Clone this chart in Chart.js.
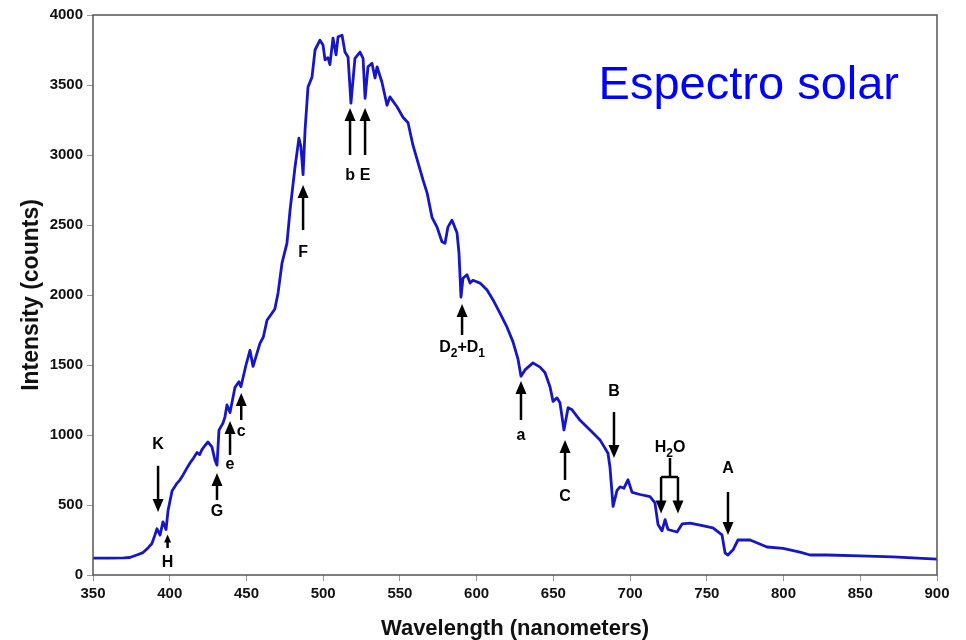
<!DOCTYPE html>
<html>
<head>
<meta charset="utf-8">
<script src="https://cdn.jsdelivr.net/npm/chart.js@4/dist/chart.umd.min.js"></script>
<style>
html,body{margin:0;padding:0;background:#fff;}
#wrap{width:966px;height:640px;}
</style>
</head>
<body>
<div id="wrap"><canvas id="c" width="966" height="640"></canvas></div>
<script>
// Wavelength (nm) and measured intensity (counts)
const wavelengthsNm = [
  350,360,370,374,379,382.6,386,388.4,390.5,391.7,
  393.7,395.6,397.6,398.9,401.5,404.7,406.7,408.7,411,413.2,
  415.5,417.8,419.5,421.0,423.0,424.9,427.5,429.5,430.8,432.1,
  434.7,436,437.3,439.3,442.5,445.1,446.4,449.7,452.3,454.3,
  458.8,461,463.4,466.6,468.5,470.6,473.2,476.4,478.4,481.6,
  484.2,485.5,486.9,488.2,490.1,492.7,494.7,497.9,499.9,501.2,
  503.1,504.4,506.4,508.4,509.7,512.3,514.2,516.2,518.1,520.7,
  524.0,526.0,527.3,529.2,531.8,533.8,535.1,538.3,541.6,543.5,
  548.1,552.0,555.3,558.5,561.8,565.1,567.7,570.9,574.2,577.4,
  579.4,581.3,583.9,587.2,588.5,589.8,591.1,593.7,595.7,597.6,
  602.2,606.8,610.7,615.2,619.8,623.7,627.0,628.9,631.5,636.7,
  641.3,644.6,647.8,649.8,652.4,654.3,656.9,659.6,662.2,667.4,
  673.9,680.4,685.6,686.9,688.9,691.5,693.4,696.0,698.6,701.3,
  706.5,713.0,716.2,718.2,720.8,722.8,724.7,730.6,733.9,739.1,
  745.6,754.0,759.9,761.9,763.8,767.1,770.3,778.2,789.2,799.7,
  810.7,817.3,828.3,849.8,871.3,900
];
const intensityCounts = [
  120,121,123,125,145,160,195,225,290,330,
  285,380,325,460,600,655,680,715,760,800,
  835,875,860,895,925,950,915,820,785,1035,
  1085,1130,1215,1160,1340,1380,1345,1500,1605,1490,
  1655,1700,1820,1870,1900,2015,2230,2370,2605,2910,
  3120,3060,2860,3180,3485,3555,3750,3820,3785,3680,
  3695,3645,3835,3715,3845,3855,3735,3700,3370,3690,
  3735,3690,3405,3630,3655,3550,3630,3520,3355,3415,
  3345,3270,3230,3070,2945,2820,2730,2555,2485,2380,
  2370,2485,2535,2445,2300,1985,2120,2145,2085,2105,
  2085,2035,1965,1870,1770,1665,1540,1420,1465,1515,
  1485,1445,1345,1240,1265,1230,1036,1195,1180,1105,
  1035,965,870,770,490,605,630,620,680,590,
  575,560,515,360,315,395,325,307,365,370,
  357,336,286,157,143,180,250,250,200,190,
  164,143,143,136,129,114
];

// Axis ranges / tick steps
const xRange = [350, 900];
const xStep = 50;
const yRange = [0, 4000];
const yStep = 500;

const chartTitle = 'Espectro solar';
const xTitle = 'Wavelength (nanometers)';
const yTitle = 'Intensity (counts)';

// Fraunhofer line annotations (label segments: [text, isSubscript])
const lineLabels = [
  [['K',0]], [['H',0]], [['G',0]], [['e',0]], [['c',0]], [['F',0]],
  [['b',0]], [['E',0]], [['D',0],['2',1],['+D',0],['1',1]],
  [['a',0]], [['C',0]], [['B',0]], [['A',0]]
];
const lineNm      = [392.4, 398.6, 430.8, 439.3, 446.6, 486.9, 517.5, 527.3, 590.5, 628.9, 657.6, 689.5, 763.8];
const arrowTail   = [780,   193,   536,   857,   1107,  2464,  3000,  3000,  1714,  1107,  679,   1164,  593];
const arrowTip    = [450,   290,   729,   1100,  1300,  2786,  3336,  3336,  1936,  1386,  964,   836,   286];
const labelCounts = [929,   86,    450,   786,   1021,  2300,  2850,  2850,  1621,  993,   557,   1307,  757];
const smallHead   = [0,     1,     0,     0,     0,     0,     0,     0,     0,     0,     0,     0,     0];

// Water band bracket
const waterLabel = [['H',0],['2',1],['O',0]];
const waterNm = [720.2, 726.0, 731.2];
const waterCounts = {label: 907, stem: 836, bar: 700, tip: 440};

function drawArrow(ctx, x, y0, y1, small) {
  const dir = y1 > y0 ? 1 : -1;
  const hl = small ? 8 : 13, hw = small ? 3.5 : 5.5;
  ctx.beginPath();
  ctx.moveTo(x, y0);
  ctx.lineTo(x, y1 - dir * hl * 0.8);
  ctx.stroke();
  ctx.beginPath();
  ctx.moveTo(x, y1);
  ctx.lineTo(x - hw, y1 - dir * hl);
  ctx.lineTo(x + hw, y1 - dir * hl);
  ctx.closePath();
  ctx.fill();
}
function drawLabel(ctx, segs, cx, cy) {
  const big = 'bold 16px "Liberation Sans", Arial, sans-serif';
  const sub = 'bold 12px "Liberation Sans", Arial, sans-serif';
  let w = 0;
  segs.forEach(s => { ctx.font = s[1] ? sub : big; w += ctx.measureText(s[0]).width; });
  let x = cx - w / 2;
  ctx.textAlign = 'left';
  ctx.textBaseline = 'middle';
  segs.forEach(s => {
    ctx.font = s[1] ? sub : big;
    ctx.fillText(s[0], x, s[1] ? cy + 6 : cy);
    x += ctx.measureText(s[0]).width;
  });
}

const annotPlugin = {
  id: 'annot',
  afterDatasetsDraw(chart) {
    const {ctx, chartArea: a} = chart;
    const xs = chart.scales.x, ys = chart.scales.y;
    ctx.save();
    // frame
    ctx.strokeStyle = '#555';
    ctx.lineWidth = 1.5;
    ctx.strokeRect(a.left, a.top, a.right - a.left, a.bottom - a.top);
    ctx.strokeStyle = '#000';
    ctx.fillStyle = '#000';
    ctx.lineWidth = 2.5;
    for (let i = 0; i < lineNm.length; i++) {
      const px = xs.getPixelForValue(lineNm[i]);
      drawArrow(ctx, px, ys.getPixelForValue(arrowTail[i]), ys.getPixelForValue(arrowTip[i]), smallHead[i]);
      drawLabel(ctx, lineLabels[i], px, ys.getPixelForValue(labelCounts[i]));
    }
    // water bracket
    const xl = xs.getPixelForValue(waterNm[0]);
    const xm = xs.getPixelForValue(waterNm[1]);
    const xr = xs.getPixelForValue(waterNm[2]);
    const yStem = ys.getPixelForValue(waterCounts.stem);
    const yBar = ys.getPixelForValue(waterCounts.bar);
    const yTip = ys.getPixelForValue(waterCounts.tip);
    ctx.beginPath();
    ctx.moveTo(xm, yStem); ctx.lineTo(xm, yBar);
    ctx.moveTo(xl, yBar); ctx.lineTo(xr, yBar);
    ctx.stroke();
    drawArrow(ctx, xl, yBar, yTip, 0);
    drawArrow(ctx, xr, yBar, yTip, 0);
    drawLabel(ctx, waterLabel, xm, ys.getPixelForValue(waterCounts.label));
    // big title inside plot
    ctx.fillStyle = '#0000ff';
    ctx.font = '47px "Liberation Sans", Arial, sans-serif';
    ctx.textAlign = 'right';
    ctx.textBaseline = 'alphabetic';
    ctx.fillText(chartTitle, a.right - 38, a.top + 84);
    ctx.restore();
  }
};

const tickFont = {family: '"Liberation Sans", Arial, sans-serif', size: 15, weight: 'bold'};
const xTitleFont = {family: '"Liberation Sans", Arial, sans-serif', size: 22, weight: 'bold', lineHeight: 1};
const yTitleFont = {family: '"Liberation Sans", Arial, sans-serif', size: 23, weight: 'bold', lineHeight: 1};

new Chart(document.getElementById('c'), {
  type: 'line',
  data: {
    datasets: [{
      data: wavelengthsNm.map((w, i) => ({x: w, y: intensityCounts[i]})),
      borderColor: '#1616c8',
      borderWidth: 2.8,
      pointRadius: 0,
      tension: 0,
      fill: false,
      borderJoinStyle: 'round'
    }]
  },
  options: {
    responsive: false,
    animation: false,
    layout: {padding: {top: 15, right: 29, left: 0, bottom: 0}},
    plugins: {legend: {display: false}, tooltip: {enabled: false}, title: {display: false}},
    scales: {
      x: {
        type: 'linear',
        min: xRange[0], max: xRange[1],
        ticks: {stepSize: xStep, color: '#111', font: tickFont, padding: 4, maxRotation: 0,
                callback: v => String(v)},
        grid: {drawOnChartArea: false, tickLength: 6, color: '#999'},
        border: {display: false},
        title: {display: true, text: xTitle, color: '#111', font: xTitleFont, padding: {top: 0, bottom: 0}},
        afterFit(s) { s.height = 65; }
      },
      y: {
        min: yRange[0], max: yRange[1],
        ticks: {stepSize: yStep, color: '#111', font: tickFont, padding: 4,
                callback: v => String(v)},
        grid: {drawOnChartArea: false, tickLength: 6, color: '#999'},
        border: {display: false},
        title: {display: true, text: yTitle, color: '#111', font: yTitleFont, padding: {top: 20, bottom: 0}},
        afterFit(s) { s.width = 93; }
      }
    }
  },
  plugins: [annotPlugin]
});
</script>
</body>
</html>
